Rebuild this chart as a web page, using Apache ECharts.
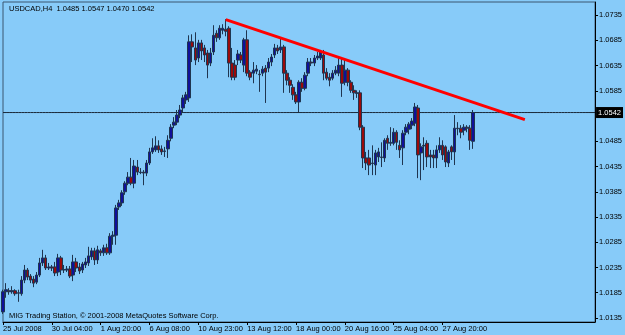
<!DOCTYPE html>
<html>
<head>
<meta charset="utf-8">
<script src="https://cdn.jsdelivr.net/npm/echarts@6/dist/echarts.min.js"></script>
<style>
html,body{margin:0;padding:0;background:#87CBF9;}
#c{width:625px;height:335px;}
</style>
</head>
<body>
<div id="c"></div>
<script>
// ---- data (USDCAD H4) ----
const symbolTitle = "USDCAD,H4  1.0485 1.0547 1.0470 1.0542";
const footerText = "MIG Trading Station, \u00A9 2001-2008 MetaQuotes Software Corp.";
const xTickLabels = ["25 Jul 2008","30 Jul 04:00","1 Aug 20:00","6 Aug 08:00","10 Aug 23:00","13 Aug 12:00","18 Aug 00:00","20 Aug 16:00","25 Aug 04:00","27 Aug 20:00"];
const barsPerLabel = 16;
const slotCount = 195;
const yTickValues = [1.0135,1.0185,1.0235,1.0285,1.0335,1.0385,1.0435,1.0485,1.0535,1.0585,1.0635,1.0685,1.0735];
const currentPrice = 1.0542;
const trendIdx = [73, 171];
const trendVals = [1.0726, 1.0528];

const opens = [1.0147,1.0187,1.0189,1.0187,1.0189,1.0185,1.0183,1.0210,1.0230,1.0218,
1.0212,1.0206,1.0220,1.0244,1.0254,1.0234,1.0236,1.0236,1.0226,1.0254,
1.0230,1.0230,1.0232,1.0220,1.0246,1.0236,1.0230,1.0240,1.0244,1.0256,
1.0268,1.0250,1.0268,1.0264,1.0274,1.0264,1.0297,1.0299,1.0355,1.0363,
1.0385,1.0402,1.0414,1.0402,1.0434,1.0424,1.0424,1.0422,1.0442,1.0464,
1.0468,1.0476,1.0470,1.0466,1.0470,1.0491,1.0517,1.0523,1.0537,1.0551,
1.0567,1.0571,1.0682,1.0670,1.0650,1.0680,1.0670,1.0660,1.0640,1.0662,
1.0699,1.0690,1.0705,1.0707,1.0709,1.0640,1.0636,1.0646,1.0656,1.0636,
1.0686,1.0622,1.0620,1.0624,1.0618,1.0620,1.0630,1.0630,1.0642,1.0656,
1.0670,1.0666,1.0672,1.0620,1.0606,1.0592,1.0577,1.0563,1.0602,1.0590,
1.0620,1.0642,1.0640,1.0650,1.0650,1.0656,1.0622,1.0612,1.0610,1.0620,
1.0620,1.0636,1.0602,1.0626,1.0602,1.0586,1.0581,1.0581,1.0513,1.0452,
1.0452,1.0442,1.0438,1.0454,1.0454,1.0452,1.0491,1.0481,1.0481,1.0503,
1.0477,1.0472,1.0503,1.0509,1.0517,1.0521,1.0551,1.0462,1.0477,1.0481,
1.0458,1.0458,1.0452,1.0468,1.0477,1.0474,1.0442,1.0474,1.0464,1.0511,
1.0511,1.0507,1.0513,1.0511,1.0485];
const closes = [1.0187,1.0191,1.0187,1.0189,1.0183,1.0184,1.0210,1.0230,1.0216,1.0210,
1.0204,1.0220,1.0244,1.0254,1.0234,1.0236,1.0234,1.0224,1.0254,1.0230,
1.0231,1.0232,1.0218,1.0246,1.0234,1.0228,1.0242,1.0246,1.0258,1.0268,
1.0250,1.0270,1.0264,1.0274,1.0264,1.0297,1.0299,1.0353,1.0363,1.0383,
1.0402,1.0414,1.0402,1.0436,1.0424,1.0423,1.0422,1.0442,1.0464,1.0472,
1.0476,1.0468,1.0464,1.0465,1.0487,1.0513,1.0523,1.0537,1.0547,1.0571,
1.0577,1.0682,1.0672,1.0646,1.0680,1.0664,1.0656,1.0636,1.0660,1.0695,
1.0690,1.0709,1.0709,1.0703,1.0640,1.0612,1.0612,1.0658,1.0646,1.0686,
1.0620,1.0612,1.0626,1.0628,1.0617,1.0628,1.0622,1.0642,1.0652,1.0670,
1.0664,1.0672,1.0620,1.0606,1.0596,1.0577,1.0563,1.0602,1.0590,1.0616,
1.0642,1.0640,1.0650,1.0654,1.0662,1.0620,1.0610,1.0606,1.0620,1.0626,
1.0636,1.0600,1.0626,1.0602,1.0586,1.0581,1.0580,1.0513,1.0452,1.0442,
1.0438,1.0441,1.0462,1.0464,1.0453,1.0487,1.0481,1.0483,1.0503,1.0483,
1.0468,1.0501,1.0513,1.0519,1.0525,1.0553,1.0458,1.0474,1.0476,1.0454,
1.0454,1.0452,1.0468,1.0477,1.0458,1.0444,1.0464,1.0464,1.0511,1.0510,
1.0503,1.0513,1.0511,1.0487,1.0542];
const lows = [1.0143,1.0175,1.0181,1.0183,1.0179,1.0167,1.0179,1.0204,1.0210,1.0204,
1.0196,1.0202,1.0216,1.0238,1.0230,1.0230,1.0228,1.0218,1.0218,1.0220,
1.0224,1.0226,1.0214,1.0208,1.0226,1.0222,1.0224,1.0234,1.0238,1.0250,
1.0240,1.0242,1.0258,1.0258,1.0260,1.0260,1.0280,1.0280,1.0349,1.0357,
1.0379,1.0398,1.0398,1.0392,1.0418,1.0420,1.0398,1.0416,1.0438,1.0460,
1.0464,1.0462,1.0458,1.0454,1.0452,1.0485,1.0511,1.0517,1.0531,1.0543,
1.0559,1.0563,1.0642,1.0636,1.0642,1.0646,1.0642,1.0610,1.0634,1.0656,
1.0682,1.0686,1.0697,1.0693,1.0612,1.0606,1.0606,1.0636,1.0640,1.0622,
1.0614,1.0606,1.0600,1.0618,1.0583,1.0614,1.0561,1.0622,1.0634,1.0650,
1.0658,1.0660,1.0581,1.0596,1.0581,1.0567,1.0559,1.0543,1.0583,1.0586,
1.0614,1.0634,1.0634,1.0646,1.0646,1.0606,1.0606,1.0594,1.0606,1.0616,
1.0614,1.0573,1.0596,1.0594,1.0581,1.0567,1.0571,1.0507,1.0432,1.0428,
1.0418,1.0418,1.0418,1.0444,1.0434,1.0444,1.0468,1.0476,1.0477,1.0468,
1.0452,1.0438,1.0497,1.0499,1.0509,1.0515,1.0412,1.0408,1.0428,1.0434,
1.0432,1.0432,1.0432,1.0462,1.0448,1.0434,1.0434,1.0448,1.0438,1.0497,
1.0491,1.0497,1.0503,1.0468,1.0470];
const highs = [1.0191,1.0204,1.0194,1.0198,1.0192,1.0191,1.0218,1.0240,1.0234,1.0222,
1.0218,1.0226,1.0254,1.0270,1.0260,1.0244,1.0240,1.0246,1.0262,1.0258,
1.0240,1.0238,1.0238,1.0260,1.0254,1.0244,1.0246,1.0254,1.0276,1.0274,
1.0274,1.0278,1.0272,1.0280,1.0282,1.0303,1.0307,1.0359,1.0369,1.0388,
1.0406,1.0424,1.0452,1.0448,1.0448,1.0432,1.0428,1.0448,1.0472,1.0491,
1.0495,1.0487,1.0477,1.0474,1.0497,1.0519,1.0533,1.0547,1.0557,1.0577,
1.0583,1.0695,1.0697,1.0701,1.0686,1.0686,1.0676,1.0666,1.0670,1.0715,
1.0705,1.0715,1.0717,1.0727,1.0713,1.0670,1.0646,1.0666,1.0662,1.0690,
1.0705,1.0626,1.0642,1.0636,1.0626,1.0634,1.0636,1.0650,1.0658,1.0678,
1.0676,1.0690,1.0676,1.0626,1.0612,1.0598,1.0583,1.0606,1.0610,1.0622,
1.0650,1.0650,1.0656,1.0662,1.0666,1.0666,1.0630,1.0620,1.0626,1.0634,
1.0650,1.0650,1.0650,1.0630,1.0606,1.0596,1.0586,1.0586,1.0517,1.0464,
1.0468,1.0477,1.0468,1.0472,1.0483,1.0491,1.0497,1.0513,1.0511,1.0507,
1.0487,1.0507,1.0519,1.0523,1.0531,1.0561,1.0557,1.0481,1.0493,1.0487,
1.0468,1.0468,1.0477,1.0493,1.0487,1.0477,1.0468,1.0477,1.0537,1.0523,
1.0517,1.0519,1.0517,1.0517,1.0547];

// ---- build library structures ----
const categories = Array.from({length: slotCount}, (_, i) => String(i));
const candleData = opens.map((o, i) => [o, closes[i], lows[i], highs[i]]);
const trendData = categories.map(() => null);
trendIdx.forEach((ix, k) => { trendData[ix] = trendVals[k]; });
const priceLineData = categories.map(() => currentPrice);

const FONT = 'Liberation Sans';
const isLabelSlot = (i) => i % barsPerLabel === 0 && (i / barsPerLabel) < xTickLabels.length;

const chart = echarts.init(document.getElementById('c'), null, {renderer: 'canvas'});
chart.setOption({
  animation: false,
  backgroundColor: '#87CBF9',
  title: [
    {text: symbolTitle, left: 4, top: 0,
     textStyle: {fontFamily: FONT, fontSize: 7.5, fontWeight: 'normal', color: '#000'}},
    {text: footerText, left: 4, top: 307,
     textStyle: {fontFamily: FONT, fontSize: 7.5, fontWeight: 'normal', color: '#000'}}
  ],
  grid: {left: 3, right: 29, top: 2, bottom: 13, show: true,
         borderColor: '#3a5670', borderWidth: 1, backgroundColor: 'transparent'},
  xAxis: {
    type: 'category', data: categories, boundaryGap: false,
    axisLine: {show: true, onZero: false, lineStyle: {color: '#000', width: 1}},
    axisTick: {show: true, length: 3, interval: (i) => isLabelSlot(i), lineStyle: {color: '#000'}},
    axisLabel: {show: true, interval: (i) => isLabelSlot(i), align: 'left', margin: 3,
      fontFamily: FONT, fontSize: 7.5, color: '#000',
      formatter: (v) => xTickLabels[Number(v) / barsPerLabel]},
    splitLine: {show: false}
  },
  yAxis: {
    type: 'value', position: 'right', min: 1.0127, max: 1.0761,
    axisLine: {show: true, lineStyle: {color: '#000', width: 1}},
    axisTick: {show: true, length: 3, customValues: yTickValues, lineStyle: {color: '#000'}},
    axisLabel: {show: true, customValues: yTickValues, margin: 4, fontFamily: FONT, fontSize: 7.5,
      color: '#000', formatter: (v) => v.toFixed(4)},
    splitLine: {show: false}
  },
  series: [
    {
      type: 'line', data: priceLineData, symbol: 'none', silent: true, z: 1,
      lineStyle: {color: '#1a2838', width: 1},
      endLabel: {show: true, distance: 1, formatter: () => currentPrice.toFixed(4),
        color: '#fff', backgroundColor: '#000', padding: [2, 2, 1, 2],
        fontFamily: FONT, fontSize: 7.5}
    },
    {
      type: 'candlestick', data: candleData, barWidth: 3, z: 2,
      itemStyle: {color: '#10109a', color0: '#9a0a0a', borderColor: '#1f3550', borderColor0: '#1f3550', borderWidth: 1}
    },
    {
      type: 'line', data: trendData, connectNulls: true, symbol: 'none', silent: true,
      lineStyle: {color: '#ff0000', width: 3}, z: 5
    }
  ]
});
</script>
</body>
</html>
